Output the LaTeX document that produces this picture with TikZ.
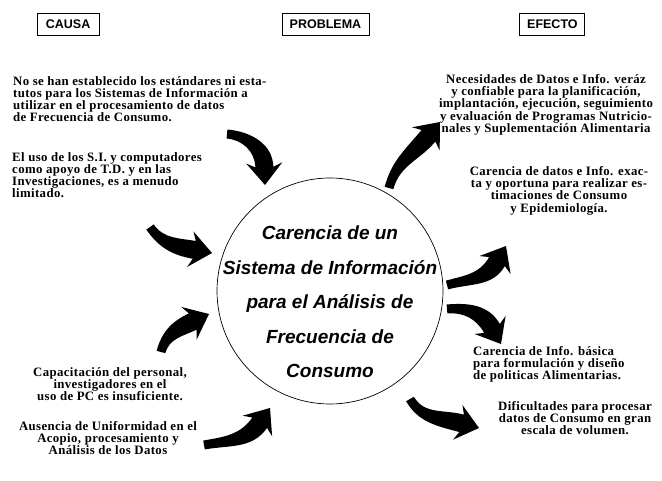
\documentclass[tikz,border=0pt]{standalone}
\usepackage{fontspec}
\setmainfont{Liberation Serif}
\setsansfont{Liberation Sans}
\newfontfamily\textofont{Liberation Serif}[LetterSpace=3.0]
\usetikzlibrary{calc,positioning}
\setlength{\lineskiplimit}{-8pt}
\tikzset{
	%Define style for header boxes
	cabecera/.style={
		rectangle,
		draw=black, line width=0.9pt,
		minimum height=22pt,
		inner sep=0pt,
		font=\sffamily\bfseries\fontsize{12.5}{14}\selectfont},
	%Define style for texts
	texto/.style={
		inner sep=0pt,
		font=\textofont\bfseries\fontsize{12.8}{12.3}\selectfont},
	% Define style for the circle
	circulo/.style={
		circle,
		draw=black, line width=0.7pt,
		inner sep=0pt,
		minimum size=226pt},
	enunciado/.style={
		inner sep=0pt, align=center,
		font=\sffamily\bfseries\itshape\fontsize{19}{34.5}\selectfont}
}
% fat curved arrow: tail, tail direction, tip, head direction
\newcommand{\flecha}[4]{%
	\pgfmathsetmacro\fIzq{#4+90}%
	\pgfmathsetmacro\fDer{#4-90}%
	\pgfmathsetmacro\fAtras{#4+180}%
	\pgfmathsetmacro\fColaI{#2+90}%
	\pgfmathsetmacro\fColaD{#2-90}%
	\fill[black] ($#1+(\fColaI:4.5)$) to[out=#2,in=\fAtras] ($#3+(\fAtras:18)+(\fIzq:9)$)
		-- ($#3+(\fAtras:22)+(\fIzq:18)$) -- #3
		-- ($#3+(\fAtras:22)+(\fDer:18)$) -- ($#3+(\fAtras:18)+(\fDer:9)$)
		to[out=\fAtras,in=#2] ($#1+(\fColaD:4.5)$) -- cycle;}

\begin{document}
\begin{tikzpicture}[x=1pt, y=1pt]
	\path[fill=white] (0,0) rectangle (662,480);
	\useasboundingbox (0,0) rectangle (662,480);
	\coordinate (OR) at (330,189);
	% headers
	\node[cabecera, minimum width=87pt] (problema) at (325.5,456) {PROBLEMA};
	\node[cabecera, minimum width=62pt, left=182pt of problema] (causa) {CAUSA};
	\node[cabecera, minimum width=65pt, right=150pt of problema] (efecto) {EFECTO};
	% problem
	\node[circulo] (circ) at (OR) {};
	\node[enunciado, anchor=north] (enunc) at (330,254) {Carencia de un\\Sistema de Información\\para el Análisis de\\Frecuencia de\\Consumo};
	% causes
	\node[texto, align=left, anchor=north west] (causa1) at (13,404) {No se han establecido los estándares ni esta-\\tutos para los Sistemas de Información a\\utilizar en el procesamiento de datos\\de Frecuencia de Consumo.};
	\node[texto, align=left, anchor=north west] (causa2) at (12,328) {El uso de los S.I. y computadores\\como apoyo de T.D. y en las\\Investigaciones, es a menudo\\limitado.};
	\node[texto, align=center, anchor=north] (causa3) at (110,113) {Capacitación del personal,\\investigadores en el\\uso de PC es insuficiente.};
	\node[texto, align=center, anchor=north] (causa4) at (108,59) {Ausencia de Uniformidad en el\\Acopio, procesamiento y\\Análisis de los Datos};
	% effects
	\node[texto, align=center, anchor=north] (efecto1) at (546,406) {Necesidades de Datos e Info. veráz\\y confiable para la planificación,\\implantación, ejecución, seguimiento\\y evaluación de Programas Nutricio-\\nales y Suplementación Alimentaria};
	\node[texto, align=center, anchor=north] (efecto2) at (559,314) {Carencia de datos e Info. exac-\\ta y oportuna para realizar es-\\timaciones de Consumo\\y Epidemiología.};
	\node[texto, align=left, anchor=north west] (efecto3) at (473,134) {Carencia de Info. básica\\para formulación y diseño\\de politicas Alimentarias.};
	\node[texto, align=center, anchor=north] (efecto4) at (575,79) {Dificultades para procesar\\datos de Consumo en gran\\escala de volumen.};
	% arrows into the circle
	\flecha{(227,346)}{-5}{(265,295)}{-88}
	\flecha{(150,253)}{-55}{(212,227)}{-10}
	\flecha{(161,128)}{75}{(209,166)}{25}
	\flecha{(204,35)}{10}{(270,72)}{55}
	% arrows out of the circle
	\flecha{(389,292)}{75}{(440,358)}{50}
	\flecha{(447,195)}{15}{(506,234)}{60}
	\flecha{(447,171)}{5}{(501,136)}{-60}
	\flecha{(410,81)}{-60}{(479,52)}{-15}
\end{tikzpicture}
\end{document}
